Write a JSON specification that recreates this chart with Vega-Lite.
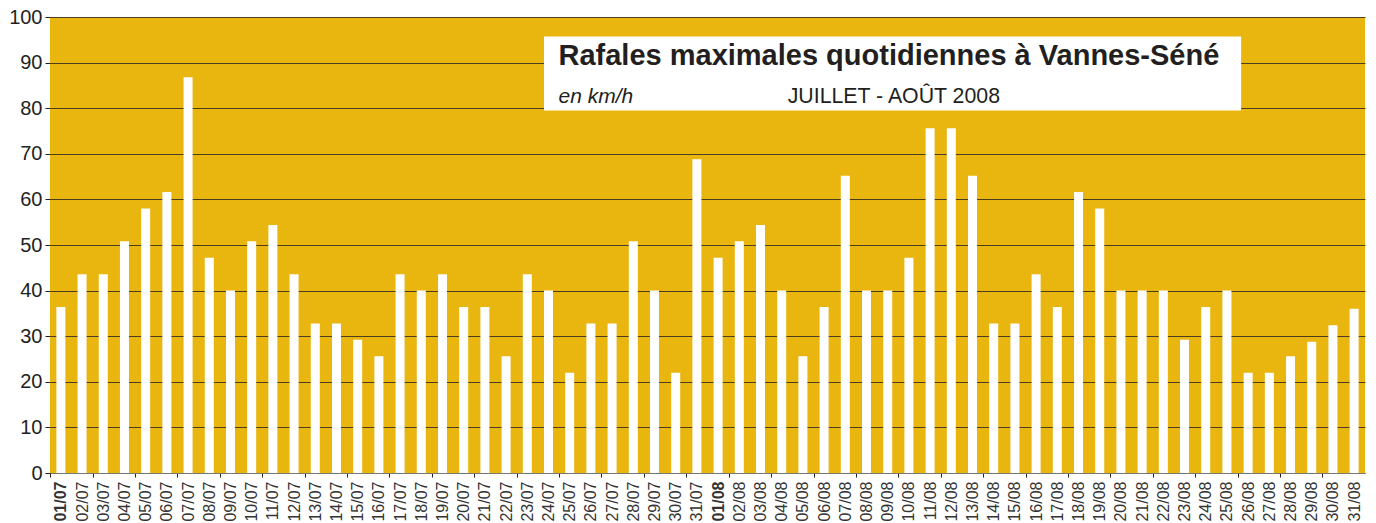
{
  "$schema": "https://vega.github.io/schema/vega-lite/v6.json",
  "autosize": "none",
  "width": 1315,
  "height": 456,
  "padding": {"left": 50, "top": 17, "right": 11, "bottom": 50},
  "background": "white",
  "config": {
    "view": {"fill": "#E9B50F", "stroke": null},
    "font": "Liberation Sans"
  },
  "layer": [
    {
      "data": {
        "values": [
          {"date": "01/07", "gust": 36.4}, {"date": "02/07", "gust": 43.6}, {"date": "03/07", "gust": 43.6},
          {"date": "04/07", "gust": 50.8}, {"date": "05/07", "gust": 58}, {"date": "06/07", "gust": 61.6},
          {"date": "07/07", "gust": 86.8}, {"date": "08/07", "gust": 47.2}, {"date": "09/07", "gust": 40},
          {"date": "10/07", "gust": 50.8}, {"date": "11/07", "gust": 54.4}, {"date": "12/07", "gust": 43.6},
          {"date": "13/07", "gust": 32.8}, {"date": "14/07", "gust": 32.8}, {"date": "15/07", "gust": 29.2},
          {"date": "16/07", "gust": 25.6}, {"date": "17/07", "gust": 43.6}, {"date": "18/07", "gust": 40},
          {"date": "19/07", "gust": 43.6}, {"date": "20/07", "gust": 36.4}, {"date": "21/07", "gust": 36.4},
          {"date": "22/07", "gust": 25.6}, {"date": "23/07", "gust": 43.6}, {"date": "24/07", "gust": 40},
          {"date": "25/07", "gust": 22}, {"date": "26/07", "gust": 32.8}, {"date": "27/07", "gust": 32.8},
          {"date": "28/07", "gust": 50.8}, {"date": "29/07", "gust": 40}, {"date": "30/07", "gust": 22},
          {"date": "31/07", "gust": 68.8},
          {"date": "01/08", "gust": 47.2}, {"date": "02/08", "gust": 50.8}, {"date": "03/08", "gust": 54.4},
          {"date": "04/08", "gust": 40}, {"date": "05/08", "gust": 25.6}, {"date": "06/08", "gust": 36.4},
          {"date": "07/08", "gust": 65.2}, {"date": "08/08", "gust": 40}, {"date": "09/08", "gust": 40},
          {"date": "10/08", "gust": 47.2}, {"date": "11/08", "gust": 75.6}, {"date": "12/08", "gust": 75.6},
          {"date": "13/08", "gust": 65.2}, {"date": "14/08", "gust": 32.8}, {"date": "15/08", "gust": 32.8},
          {"date": "16/08", "gust": 43.6}, {"date": "17/08", "gust": 36.4}, {"date": "18/08", "gust": 61.6},
          {"date": "19/08", "gust": 58}, {"date": "20/08", "gust": 40}, {"date": "21/08", "gust": 40},
          {"date": "22/08", "gust": 40}, {"date": "23/08", "gust": 29.2}, {"date": "24/08", "gust": 36.4},
          {"date": "25/08", "gust": 40}, {"date": "26/08", "gust": 22}, {"date": "27/08", "gust": 22},
          {"date": "28/08", "gust": 25.6}, {"date": "29/08", "gust": 28.8}, {"date": "30/08", "gust": 32.4},
          {"date": "31/08", "gust": 36}
        ]
      },
      "mark": {"type": "bar", "color": "white"},
      "encoding": {
        "x": {
          "field": "date", "type": "nominal", "sort": null,
          "scale": {"paddingInner": 0.575, "paddingOuter": 0.3},
          "axis": {
            "title": null,
            "labelAngle": -90,
            "labelFont": "Liberation Sans",
            "labelFontSize": 16,
            "labelColor": "#333333",
            "labelPadding": 4,
            "labelOverlap": false,
            "labelBound": false,
            "tickSize": 4,
            "tickColor": "#231f20",
            "tickOffset": -10.6,
            "labelOffset": 10.6,
            "tickOpacity": {"condition": {"test": "round(datum.index*61) % 2 == 0", "value": 1}, "value": 0},
            "labelFontWeight": {"condition": {"test": "slice(datum.value,0,2)=='01'", "value": "bold"}, "value": "normal"},
            "domainColor": "#777777",
            "domainWidth": 1
          }
        },
        "y": {
          "field": "gust", "type": "quantitative",
          "scale": {"domain": [0, 100], "nice": false},
          "axis": {
            "title": null,
            "values": [0, 10, 20, 30, 40, 50, 60, 70, 80, 90, 100],
            "grid": true,
            "gridColor": "#231f20",
            "gridOpacity": 0.8,
            "gridWidth": 1.2,
            "domain": false,
            "tickSize": 5,
            "tickColor": "#231f20",
            "labelFont": "Liberation Sans",
            "labelFontSize": 20,
            "labelColor": "#231f20",
            "labelPadding": 3
          }
        }
      }
    },
    {
      "data": {"values": [{"x1": "24/07", "x2": "26/08", "y1": 95.7, "y2": 79.5}]},
      "mark": {"type": "rect", "color": "white", "x2Offset": -7},
      "encoding": {
        "x": {"field": "x1", "type": "nominal", "sort": null, "bandPosition": 0},
        "x2": {"field": "x2"},
        "y": {"field": "y1", "type": "quantitative"},
        "y2": {"field": "y2"}
      }
    },
    {
      "data": {"values": [
        {"x": "24/07", "y": 89.5, "label": "Rafales maximales quotidiennes à Vannes-Séné"}
      ]},
      "mark": {"type": "text", "align": "left", "baseline": "alphabetic", "dx": 10, "font": "Liberation Sans", "fontSize": 29, "fontWeight": "bold", "color": "#231f20"},
      "encoding": {
        "x": {"field": "x", "type": "nominal", "sort": null},
        "y": {"field": "y", "type": "quantitative"},
        "text": {"field": "label"}
      }
    },
    {
      "data": {"values": [
        {"x": "24/07", "y": 81.2, "label": "en km/h"}
      ]},
      "mark": {"type": "text", "align": "left", "baseline": "alphabetic", "dx": 10, "font": "Liberation Sans", "fontSize": 21, "fontStyle": "italic", "color": "#231f20"},
      "encoding": {
        "x": {"field": "x", "type": "nominal", "sort": null},
        "y": {"field": "y", "type": "quantitative"},
        "text": {"field": "label"}
      }
    },
    {
      "data": {"values": [
        {"x": "04/08", "y": 81.2, "label": "JUILLET - AOÛT 2008"}
      ]},
      "mark": {"type": "text", "align": "left", "baseline": "alphabetic", "dx": 6, "font": "Liberation Sans", "fontSize": 21.3, "color": "#231f20"},
      "encoding": {
        "x": {"field": "x", "type": "nominal", "sort": null},
        "y": {"field": "y", "type": "quantitative"},
        "text": {"field": "label"}
      }
    }
  ]
}
